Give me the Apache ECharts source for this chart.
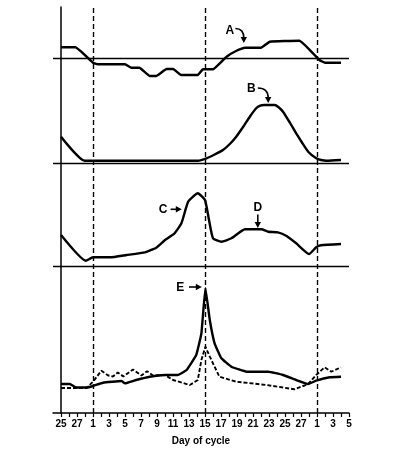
<!DOCTYPE html>
<html><head><meta charset="utf-8">
<script src="https://cdn.jsdelivr.net/npm/echarts@6/dist/echarts.min.js"></script>
<style>html,body{margin:0;padding:0;background:#fff}#c{width:414px;height:458px}</style>
</head><body><div id="c"></div>
<script>
// x positions are day indices: 0 = day 25 of previous cycle, 4 = day 1, 32 = day 1 of next cycle
const dayLabels = ['25','26','27','28','1','2','3','4','5','6','7','8','9','10','11','12','13','14','15','16','17','18','19','20','21','22','23','24','25','26','27','28','1','2','3','4','5'];
const cycleStarts = [4, 18, 32];

// Panel A: basal body temperature (relative to baseline)
const curveA = [[0,10.7],[1.8,10.7],[4,-4.7],[4.6,-6.3],[8,-6.3],[8.8,-9.7],[9.8,-9.7],[11.1,-18],[11.9,-18],[13.2,-11],[14,-11],[15,-17],[17.1,-17],[17.75,-11.3],[19,-11.3],[20.7,1.3],[22,7.5],[23,10.3],[25,10.3],[26.1,16.3],[29.8,17.3],[32.3,-2],[33,-4.7],[35,-4.7]];
// Panel B: progesterone
const curveB = [[0,26.3],[2.96,2.3],[17.1,2.3],[18.2,4.7],[19.2,8.5],[20.25,13],[21.1,19],[21.9,26.3],[22.8,36.5],[23.6,46.3],[24.4,54.7],[24.9,57.3],[25.4,58],[26.7,58],[27.2,55.8],[27.75,51.3],[28.6,40.5],[29.4,29.7],[30.2,19.5],[30.9,11.3],[31.9,4.7],[32.5,3],[33.2,2.3],[35,3]];
// Panel C/D: estradiol
const curveCD = [[0,31],[3.1,5.3],[4,8.7],[6.1,8.7],[8.2,11],[10.5,13.7],[11.9,18.3],[13,26],[14.2,32.7],[15.05,42.7],[15.9,64.3],[17.1,72.7],[18,66],[18.5,46],[19,27.7],[20.05,24.3],[21.3,27.7],[23,36.7],[25.05,36.7],[25.9,34.3],[27.1,33.7],[28.2,30],[29.4,22.7],[31,12],[31.9,18.7],[32.5,20.7],[35,22]];
// Panel E: LH (solid) and FSH (dashed)
const curveLH = [[0,29],[1.1,29],[1.9,25.5],[3.2,25.5],[4,27],[5.25,30.3],[7.55,32],[8,29.7],[9.4,33],[11.1,36.3],[13,38],[14.6,38],[15.7,43],[16.9,58],[17.55,79.7],[18.05,124.7],[18.6,93],[19.2,69.7],[20.05,54.7],[21.3,46.3],[23.2,41.3],[25.9,41.3],[27.75,38],[29.4,33],[30.9,29],[31.9,32.3],[33.6,35.7],[35,36.3]];
const curveFSH = [[0,25],[3.2,25],[4,31.3],[5.05,42.3],[5.9,37.5],[6.5,36.5],[7.1,40.5],[7.8,36.5],[9,43.5],[10.05,37.5],[10.75,41.8],[11.5,37.5],[13,38],[14,33],[16.1,28],[17.1,33],[17.55,53],[18.05,66.3],[18.6,56.3],[19.8,36.3],[21.9,31.3],[25.7,28],[29.2,23.7],[30.9,29],[31.9,38],[32.95,45.7],[33.8,41.3],[35,45.7]];

// annotation anchors in data units of each panel
const notes = [
  {text:'A', grid:0, label:[21.1,27], from:[21.8,29.5], ctrl:[22.85,29.5], to:[22.85,15]},
  {text:'B', grid:1, label:[23.8,74], from:[24.6,75], ctrl:[25.9,75], to:[25.9,60]},
  {text:'C', grid:2, label:[12.75,56.7], from:[13.7,56.7], to:[15.1,56.7]},
  {text:'D', grid:2, label:[24.6,58], from:[24.6,51.5], to:[24.6,38]},
  {text:'E', grid:3, label:[14.9,125], from:[16,126], to:[17.6,126]}
];

const tickVals = dayLabels.map((d,i)=>i);
const labelVals = tickVals.filter(i=>i%2===0);

const FONT = 'Liberation Sans, Arial, sans-serif';
const chart = echarts.init(document.getElementById('c'), null, {renderer:'canvas'});
const L = 53, W = 296;
const grids = [
  {left:L, width:W, top:8, height:100},
  {left:L, width:W, top:63, height:100},
  {left:L, width:W, top:166, height:100},
  {left:L, width:W, top:263, height:150},
  {left:L, width:W, top:7, height:406}
];
const hidX = i => ({gridIndex:i, type:'value', min:-1, max:36, show:false});
const hidY = (i,mn,mx) => ({gridIndex:i, type:'value', min:mn, max:mx, show:false});
const baseLine = (v) => ({silent:true, symbol:'none', label:{show:false}, lineStyle:{color:'#000', width:1.4, type:'solid'}, data:[{yAxis:v}]});
const lineS = (xi, data, extra) => Object.assign({type:'line', xAxisIndex:xi, yAxisIndex:xi, data:data, symbol:'none', lineStyle:{color:'#000', width:2.4}, z:3}, extra||{});

chart.setOption({
  animation:false,
  backgroundColor:'#fff',
  grid: grids,
  xAxis: [hidX(0), hidX(1), hidX(2), {
    gridIndex:3, type:'value', min:-1, max:36,
    name:'Day of cycle', nameLocation:'middle', nameGap:23,
    nameTextStyle:{color:'#000', fontSize:10, fontWeight:'bold', fontFamily:FONT},
    axisLine:{lineStyle:{color:'#000', width:1.5}},
    axisTick:{customValues:tickVals, length:4, lineStyle:{color:'#000', width:1.2}},
    axisLabel:{customValues:labelVals, formatter:v=>dayLabels[v], color:'#000', fontSize:10, fontWeight:'bold', fontFamily:FONT, margin:6},
    splitLine:{show:false}
  }, hidX(4)],
  yAxis: [hidY(0,-50,50), hidY(1,0,100), hidY(2,0,100), hidY(3,0,150), {
    gridIndex:4, type:'value', min:0, max:1,
    axisLine:{show:true, lineStyle:{color:'#000', width:1.5}},
    axisTick:{show:false}, axisLabel:{show:false}, splitLine:{show:false}
  }],
  series: [
    lineS(0, curveA, {smooth:0.1, markLine: baseLine(0)}),
    lineS(1, curveB, {smooth:0.15, markLine: baseLine(0)}),
    lineS(2, curveCD, {smooth:0.15, markLine: baseLine(0)}),
    lineS(3, curveLH, {smooth:0.1}),
    lineS(3, curveFSH, {lineStyle:{color:'#000', width:1.9, type:[4,2]}}),
    {type:'line', xAxisIndex:4, yAxisIndex:4, data:[], symbol:'none',
     markLine:{silent:true, symbol:'none', label:{show:false},
       lineStyle:{color:'#000', width:1.4, type:[5,3]},
       data: cycleStarts.map(x=>({xAxis:x}))}}
  ]
});

// annotations positioned from data coordinates
const gfx = [];
function head(tip, dir) {
  const len = Math.hypot(dir[0], dir[1]) || 1;
  const ux = dir[0]/len, uy = dir[1]/len;
  const b = [tip[0]-ux*6, tip[1]-uy*6];
  return {type:'polygon', shape:{points:[tip, [b[0]-uy*3.2, b[1]+ux*3.2], [b[0]+uy*3.2, b[1]-ux*3.2]]}, style:{fill:'#000'}, z:10};
}
notes.forEach(n => {
  const P = p => chart.convertToPixel({gridIndex:n.grid}, p);
  const lp = P(n.label), f = P(n.from), t = P(n.to);
  gfx.push({type:'text', x:lp[0], y:lp[1], style:{text:n.text, fill:'#000', font:'bold 12px '+FONT, align:'center', verticalAlign:'middle'}, z:10});
  if (n.ctrl) {
    const c = P(n.ctrl);
    const dir = [t[0]-c[0], t[1]-c[1]];
    const dl = Math.hypot(dir[0],dir[1]);
    const e = [t[0]-dir[0]/dl*5, t[1]-dir[1]/dl*5];
    gfx.push({type:'bezierCurve', shape:{x1:f[0], y1:f[1], x2:e[0], y2:e[1], cpx1:c[0], cpy1:c[1]}, style:{stroke:'#000', lineWidth:1.6, fill:null}, z:10});
    gfx.push(head(t, dir));
  } else {
    const dir = [t[0]-f[0], t[1]-f[1]];
    const dl = Math.hypot(dir[0],dir[1]);
    const e = [t[0]-dir[0]/dl*5, t[1]-dir[1]/dl*5];
    gfx.push({type:'line', shape:{x1:f[0], y1:f[1], x2:e[0], y2:e[1]}, style:{stroke:'#000', lineWidth:1.6}, z:10});
    gfx.push(head(t, dir));
  }
});
chart.setOption({graphic: gfx});
</script>
</body></html>
